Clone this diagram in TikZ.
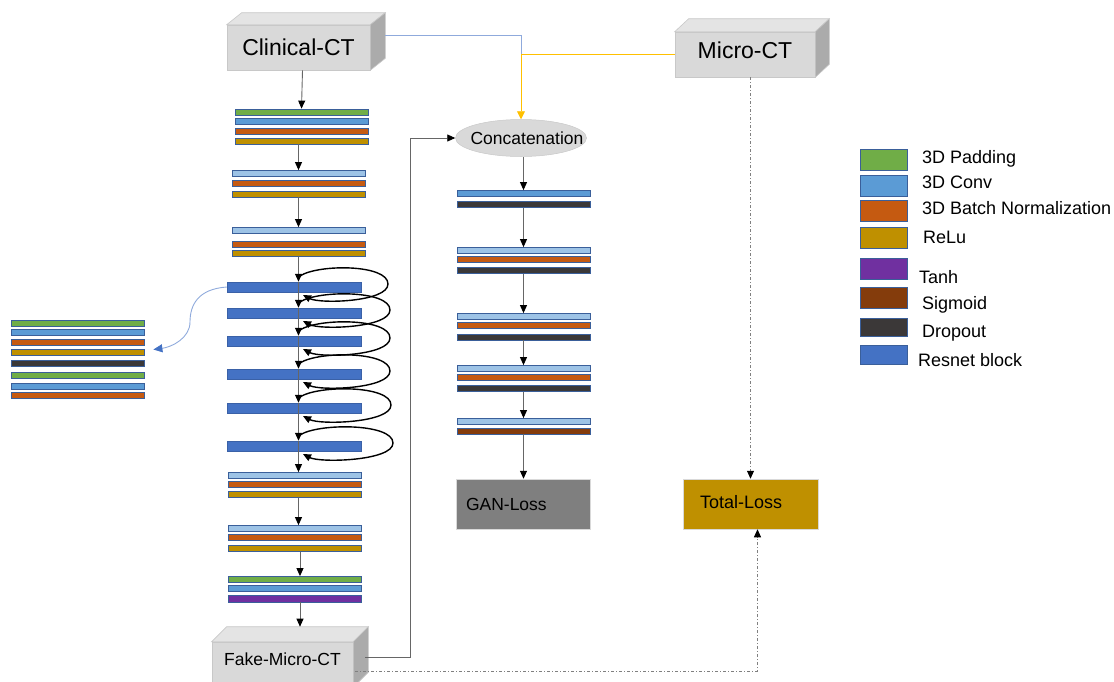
\documentclass[tikz,border=0pt]{standalone}
\usepackage{fontspec}
\setmainfont{Liberation Sans}
\usetikzlibrary{arrows.meta,calc,shapes.geometric}
\definecolor{cgreen}{HTML}{70AD47}
\definecolor{cblue}{HTML}{5B9BD5}
\definecolor{clblue}{HTML}{9DC3E6}
\definecolor{corange}{HTML}{C55A11}
\definecolor{cgold}{HTML}{BF9000}
\definecolor{cpurple}{HTML}{7030A0}
\definecolor{cbrown}{HTML}{843C0C}
\definecolor{cdark}{HTML}{3B3838}
\definecolor{cres}{HTML}{4472C4}
\definecolor{barline}{HTML}{3A5F9A}
\definecolor{boxfront}{HTML}{D9D9D9}
\definecolor{boxtop}{HTML}{E4E4E4}
\definecolor{boxside}{HTML}{ABABAB}
\definecolor{boxedge}{HTML}{C8C8C8}
\definecolor{cyellow}{HTML}{FFC000}
\definecolor{cline}{HTML}{8FAADC}
\definecolor{cgan}{HTML}{7F7F7F}
\tikzset{
  bar/.style={draw=barline, line width=0.8pt, minimum width=133pt, minimum height=6pt, inner sep=0pt},
  rblock/.style={fill=cres, draw=cres!85!black, line width=0.5pt, minimum width=134pt, minimum height=10pt, inner sep=0pt},
  front/.style={fill=boxfront, draw=boxedge, line width=0.6pt, inner sep=0pt},
  topface/.style={fill=boxtop, draw=boxedge, line width=0.6pt},
  sideface/.style={fill=boxside, draw=boxedge, line width=0.6pt},
  arr/.style={draw=black!60, line width=0.9pt, -{Triangle[length=8pt,width=7pt,color=black]}},
  looparr/.style={draw=black, line width=1.4pt, -{Triangle[length=8pt,width=7pt]}},
  dotline/.style={draw=black!50, line width=0.8pt, dash pattern=on 3pt off 2pt on 1pt off 2pt},
  swatch/.style={draw=barline, line width=1pt, minimum width=47pt, minimum height=21pt, inner sep=0pt},
  legtext/.style={anchor=west, inner sep=0pt, text height=13pt, text depth=0pt, font=\fontsize{18}{20}\selectfont},
}
\begin{document}
\begin{tikzpicture}[x=1pt,y=-1pt]
\useasboundingbox (0,0) rectangle (1114,681);
% ---------- 3D boxes ----------
\node[front, minimum width=143pt, minimum height=45pt, font=\fontsize{23}{26}\selectfont] (clin) at (298.5,47.5) {Clinical-CT};
\draw[topface] (clin.north west) -- ++(15,-12) -- ($(clin.north east)+(15,-12)$) -- (clin.north east) -- cycle;
\draw[sideface] (clin.north east) -- ++(15,-12) -- ($(clin.south east)+(15,-12)$) -- (clin.south east) -- cycle;

\node[front, minimum width=140pt, minimum height=45pt, text depth=9pt, font=\fontsize{23}{26}\selectfont] (micro) at (745,54.5) {Micro-CT};
\draw[topface] (micro.north west) -- ++(14,-13) -- ($(micro.north east)+(14,-13)$) -- (micro.north east) -- cycle;
\draw[sideface] (micro.north east) -- ++(14,-13) -- ($(micro.south east)+(14,-13)$) -- (micro.south east) -- cycle;

\node[front, minimum width=141pt, minimum height=45pt, text depth=10pt, font=\fontsize{17.5}{20}\selectfont] (fake) at (282.5,664.5) {Fake-Micro-CT};
\draw[topface] (fake.north west) -- ++(15,-15) -- ($(fake.north east)+(15,-15)$) -- (fake.north east) -- cycle;
\draw[sideface] (fake.north east) -- ++(15,-15) -- ($(fake.south east)+(15,-15)$) -- (fake.south east) -- cycle;

% ---------- generator stacks ----------
\node[bar, fill=cgreen]  (s1a) at (301.5,112) {};
\node[bar, fill=cblue]   (s1b) at (301.5,121) {};
\node[bar, fill=corange] (s1c) at (301.5,131) {};
\node[bar, fill=cgold]   (s1d) at (301.5,141) {};

\node[bar, fill=clblue]  (s2a) at (298.5,173.5) {};
\node[bar, fill=corange] (s2b) at (298.5,183.5) {};
\node[bar, fill=cgold]   (s2c) at (298.5,194) {};

\node[bar, fill=clblue]  (s3a) at (298.5,230.5) {};
\node[bar, fill=corange] (s3b) at (298.5,244.5) {};
\node[bar, fill=cgold]   (s3c) at (298.5,253.5) {};

\node[rblock] (r1) at (294,287) {};
\node[rblock] (r2) at (294,313) {};
\node[rblock] (r3) at (294,341) {};
\node[rblock] (r4) at (294,374) {};
\node[rblock] (r5) at (294,408) {};
\node[rblock] (r6) at (294,446) {};

\node[bar, fill=clblue]  (pa1) at (295,475.5) {};
\node[bar, fill=corange] (pa2) at (295,484.5) {};
\node[bar, fill=cgold]   (pa3) at (295,494.5) {};

\node[bar, fill=clblue]  (pb1) at (295,528.5) {};
\node[bar, fill=corange] (pb2) at (295,537.5) {};
\node[bar, fill=cgold]   (pb3) at (295,548.5) {};

\node[bar, fill=cgreen]  (pc1) at (295,579.5) {};
\node[bar, fill=cblue]   (pc2) at (295,588) {};
\node[bar, fill=cpurple, minimum height=7pt] (pc3) at (295,598.5) {};

% ---------- expanded resnet block ----------
\node[bar, fill=cgreen]  (L1) at (77.5,323.5) {};
\node[bar, fill=cblue]   (L2) at (77.5,332.5) {};
\node[bar, fill=corange] (L3) at (77.5,342.5) {};
\node[bar, fill=cgold]   (L4) at (77.5,352.5) {};
\node[bar, fill=cdark]   (L5) at (77.5,363.5) {};
\node[bar, fill=cgreen]  (L6) at (77.5,375.5) {};
\node[bar, fill=cblue]   (L7) at (77.5,386.5) {};
\node[bar, fill=corange] (L8) at (77.5,395.5) {};

% ---------- discriminator ----------
\node[ellipse, fill=boxfront, draw=boxedge, line width=0.5pt, minimum width=131pt, minimum height=37pt, inner sep=0pt] (concat) at (521,138) {};
\node[inner sep=0pt, font=\fontsize{17.5}{20}\selectfont] (concattext) at (527,138) {Concatenation};

\node[bar, fill=cblue]   (d1a) at (523.5,193.5) {};
\node[bar, fill=cdark]   (d1b) at (523.5,204.5) {};
\node[bar, fill=clblue]  (d2a) at (523.5,250.5) {};
\node[bar, fill=corange] (d2b) at (523.5,259.5) {};
\node[bar, fill=cdark]   (d2c) at (523.5,270.5) {};
\node[bar, fill=clblue]  (d3a) at (523.5,316.5) {};
\node[bar, fill=corange] (d3b) at (523.5,325.5) {};
\node[bar, fill=cdark]   (d3c) at (523.5,337) {};
\node[bar, fill=clblue]  (d4a) at (523.5,368.5) {};
\node[bar, fill=corange] (d4b) at (523.5,377.5) {};
\node[bar, fill=cdark]   (d4c) at (523.5,388.5) {};
\node[bar, fill=clblue]  (d5a) at (523.5,421.5) {};
\node[bar, fill=cbrown]  (d5b) at (523.5,431) {};

\node[fill=cgan, draw=white!85!black, line width=0.5pt, minimum width=134pt, minimum height=50pt, inner xsep=10pt, inner ysep=0pt, text width=114pt, align=left, font=\fontsize{17.5}{20}\selectfont] (gan) at (523,504) {GAN-Loss};
\node[fill=cgold, draw=white!85!black, line width=0.5pt, minimum width=135pt, minimum height=50pt, inner xsep=17pt, inner ysep=0pt, text width=101pt, text depth=5pt, align=left, font=\fontsize{18}{20}\selectfont] (tot) at (750.5,504) {Total-Loss};

% ---------- legend ----------
\node[swatch, fill=cgreen]  (lg1) at (883.5,160) {};
\node[swatch, fill=cblue]   (lg2) at (883.5,186) {};
\node[swatch, fill=corange] (lg3) at (883.5,211) {};
\node[swatch, fill=cgold]   (lg4) at (883.5,238) {};
\node[swatch, fill=cpurple] (lg5) at (883.5,268.5) {};
\node[swatch, fill=cbrown]  (lg6) at (883.5,297.5) {};
\node[swatch, fill=cdark, minimum height=18pt] (lg7) at (883.5,327.5) {};
\node[swatch, fill=cres, minimum height=19pt]  (lg8) at (883.5,354.5) {};
\node[legtext] (lt1) at (922,157) {3D Padding};
\node[legtext] (lt2) at (922,182) {3D Conv};
\node[legtext] (lt3) at (922,208) {3D Batch Normalization};
\node[legtext] (lt4) at (923,237) {ReLu};
\node[legtext] (lt5) at (919,277) {Tanh};
\node[legtext] (lt6) at (922,303) {Sigmoid};
\node[legtext] (lt7) at (922,331) {Dropout};
\node[legtext] (lt8) at (918,360) {Resnet block};

% ---------- generator arrows ----------
\draw[arr] ($(clin.south)+(4,0)$) -- (s1a.north);
\draw[arr] (s1d.south -| s2a) -- (s2a.north);
\draw[arr] (s2c.south) -- (s3a.north);
\draw[arr] (s3c.south) -- (r1.north -| s3c);
\draw[arr] (r1.north -| s3c) -- (r2.north -| s3c);
\draw[arr] (r2.north -| s3c) -- (r3.north -| s3c);
\draw[arr] (r3.north -| s3c) -- (r4.north -| s3c);
\draw[arr] (r4.north -| s3c) -- (r5.north -| s3c);
\draw[arr] (r5.north -| s3c) -- (r6.north -| s3c);
\draw[arr] (r6.north -| s3c) -- (pa1.north -| s3c);
\draw[arr] (pa3.south -| s3c) -- (pb1.north -| s3c);
\draw[arr] ($(pb3.south)+(5,0)$) -- ($(pc1.north)+(5,0)$);
\draw[arr] ($(pc3.south)+(5,0)$) -- ($(fake.north -| pc3)+(5,-15)$);

% resnet skip loops
\foreach \n/\w in {r1/94,r2/96,r3/96,r4/96,r5/97,r6/99}{
  \draw[looparr] ($(\n)+(6,-11)$) .. controls ($(\n)+(24,-23)$) and ($(\n)+(\w,-23)$) .. ($(\n)+(\w,-3)$)
     .. controls ($(\n)+(\w,15)$) and ($(\n)+(26,17)$) .. ($(\n)+(9,8)$);
}

% expansion curve
\draw[draw=cline, line width=0.9pt, -{Triangle[length=9pt,width=8pt,color=cres]}] (r1.west) .. controls (198,289) and (190,305) .. (190,322) .. controls (190,338) and (172,347) .. ($(L4.east)+(9,-3)$);

% ---------- discriminator arrows ----------
\draw[arr] (d1a.north |- concat.south) -- (d1a.north);
\draw[arr] (d1b.south) -- (d2a.north);
\draw[arr] (d2c.south) -- (d3a.north);
\draw[arr] (d3c.south) -- (d4a.north);
\draw[arr] (d4c.south) -- (d5a.north);
\draw[arr] (d5b.south) -- (gan.north -| d5b);

% ---------- top connections ----------
\draw[draw=cline, line width=0.9pt] ($(clin.east)+(15,-12)$) -| ($(concat.north |- micro.west)$);
\draw[draw=cyellow, line width=0.9pt] (micro.west) -- (micro.west -| concat.north);
\draw[draw=cyellow, line width=0.9pt, -{Triangle[length=8pt,width=8pt]}] (micro.west -| concat.north) -- (concat.north);

% fake -> concatenation
\coordinate (fkout) at ($(fake.east)+(12,-7.5)$);
\draw[arr] (fkout) -- (410,657) |- (concat.west);

% loss connections
\draw[dotline, -{Triangle[length=8pt,width=7pt,color=black]}] (tot.north |- micro.south) -- (tot.north);
\coordinate (fkdot) at ($(fake.east)+(2,6.5)$);
\draw[dotline, -{Triangle[length=8pt,width=7pt,color=black]}] (fkdot) -| ($(tot.south)+(7,0)$);
\end{tikzpicture}
\end{document}
